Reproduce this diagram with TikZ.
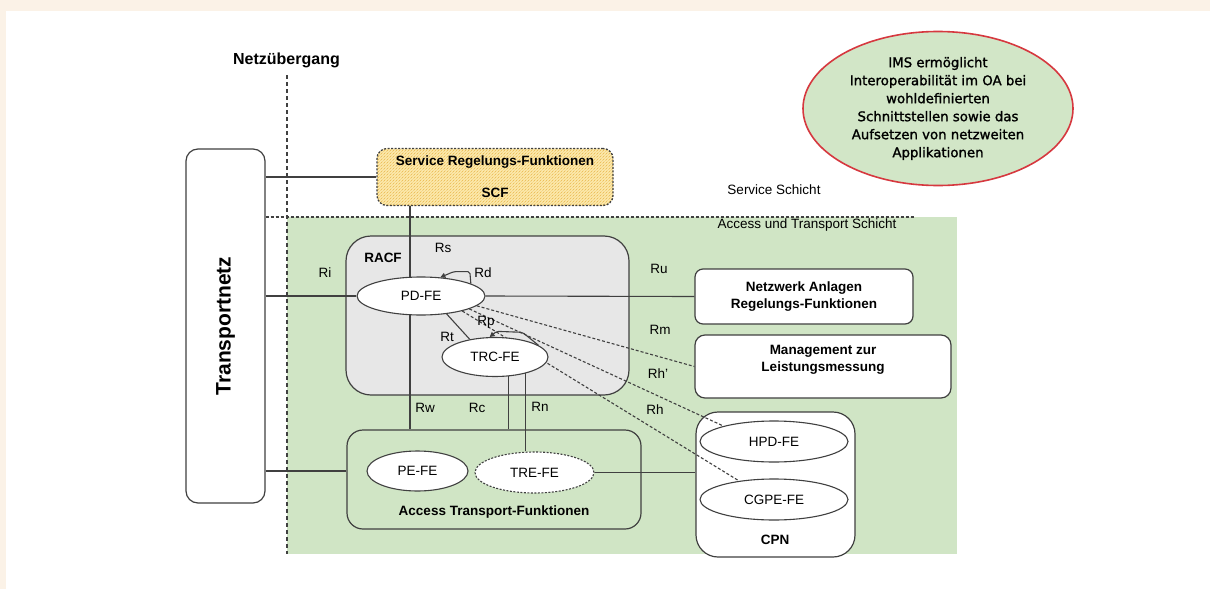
\documentclass[tikz,border=0pt]{standalone}
\usepackage{fontspec}
\setmainfont{Liberation Sans}
\newfontfamily\notefont[FakeBold=1.4]{DejaVu Sans}
\usetikzlibrary{patterns,arrows.meta,shapes.geometric}
\pgfdeclarelayer{back}
\pgfdeclarelayer{wires}
\pgfsetlayers{back,wires,main}

\definecolor{cream}{HTML}{FBF2E7}
\definecolor{layergreen}{HTML}{D0E5C5}
\definecolor{racfgray}{HTML}{E7E7E7}
\definecolor{edge}{HTML}{404040}
\definecolor{hatchbase}{HTML}{FCE9AC}
\definecolor{hatchline}{HTML}{E9B84C}
\definecolor{notered}{HTML}{D6383F}
\definecolor{notegreen}{HTML}{D2E6C7}

\begin{document}
\begin{tikzpicture}[x=1pt,y=-1pt,
  font=\fontsize{13.5}{16}\selectfont,
  box/.style={draw=edge,line width=1.2pt,rectangle,inner sep=0pt,align=center,
    font=\fontsize{13.5}{17}\selectfont\bfseries},
  fe/.style={draw=edge,line width=1.1pt,ellipse,fill=white,inner sep=0pt},
  link/.style={draw=edge,line width=1.1pt},
  dlink/.style={link,dash pattern=on 3pt off 2pt},
  lbl/.style={inner sep=0pt},
  bold/.style={inner sep=0pt,font=\fontsize{13.5}{16}\selectfont\bfseries},
  selfloop/.style={link,rounded corners=2pt,-{Triangle[length=5pt,width=5pt]}},
]
\useasboundingbox (0,0) rectangle (1210,589);

% page background with its cream edge
\begin{pgfonlayer}{back}
\fill[white] (0,0) rectangle (1210,589);
\fill[cream] (0,0) rectangle (1210,10.5);
\fill[cream] (0,0) rectangle (6,589);
% access and transport layer
\fill[layergreen] (287,217) rectangle (957,554);

% boxes
\node[box,minimum width=79pt,minimum height=354pt,rounded corners=12pt,fill=white,
  font=\fontsize{21}{24}\selectfont\bfseries] (T) at (225.5,326) {\rotatebox{90}{Transportnetz}};
\node[box,minimum width=236pt,minimum height=57pt,rounded corners=10pt,
  dash pattern=on 2pt off 1.5pt,line width=1.3pt,
  preaction={fill=hatchbase},pattern={north east lines},pattern color=hatchline]
  (SCF) at (495,177) {Service Regelungs-Funktionen\\[15pt]SCF};
\node[box,minimum width=283pt,minimum height=159pt,rounded corners=25pt,fill=racfgray]
  (RACF) at (487.5,315.5) {};
\node[box,minimum width=294pt,minimum height=99pt,rounded corners=16pt]
  (ATF) at (494,479.5) {};
\node[box,minimum width=218pt,minimum height=55pt,rounded corners=8pt,fill=white]
  (NACF) at (804,296.5) {Netzwerk Anlagen\\Regelungs-Funktionen};
\node[box,minimum width=256pt,minimum height=63pt,rounded corners=10pt,fill=white]
  (PM) at (823,366.5) {Management zur\\Leistungsmessung\\~};
\node[box,minimum width=159pt,minimum height=145pt,rounded corners=22pt,fill=white]
  (CPN) at (775.5,484.5) {};
\end{pgfonlayer}

% functional entities
\node[fe,minimum width=128pt,minimum height=38pt] (PD) at (421,296) {PD-FE};
\node[fe,minimum width=106pt,minimum height=39pt] (TRC) at (495,357) {TRC-FE};
\node[fe,minimum width=101pt,minimum height=40pt] (PE) at (417.5,471) {PE-FE};
\node[fe,minimum width=119pt,minimum height=41pt,dash pattern=on 2pt off 1.5pt] (TRE) at (534.5,472.5) {TRE-FE};
\node[fe,minimum width=148pt,minimum height=41pt] (HPD) at (774,441.5) {HPD-FE};
\node[fe,minimum width=148pt,minimum height=41pt] (CGPE) at (774,499.5) {CGPE-FE};

% annotation bubble
\node[ellipse,draw=notered,line width=1.6pt,fill=notegreen,minimum width=270pt,minimum height=154pt,
  inner sep=0pt,align=center,font=\notefont\fontsize{13.3}{18}\selectfont]
  (IMS) at (938,108.5) {IMS ermöglicht\\Interoperabilität im OA bei\\wohldefinierten\\Schnittstellen sowie das\\Aufsetzen von netzweiten\\Applikationen};

% texts
\node[bold,font=\fontsize{16}{18}\selectfont\bfseries] (gw) at (286.5,60) {Netzübergang};
\node[bold] (racfname) at (383,258) {RACF};
\node[bold] (atfname) at (494,512) {Access Transport-Funktionen};
\node[bold] (cpnname) at (775,540) {CPN};
\node[lbl] (svc) at (774,190) {Service Schicht};
\node[lbl] (acc) at (807,225) {Access und Transport Schicht};

\node[lbl] (Ri) at (325,273) {Ri};
\node[lbl] (Rs) at (443,248) {Rs};
\node[lbl] (Rd) at (483,273) {Rd};
\node[lbl] (Rp) at (486,322) {Rp};
\node[lbl] (Rt) at (447,337) {Rt};
\node[lbl] (Rw) at (425,408) {Rw};
\node[lbl] (Rc) at (477,408) {Rc};
\node[lbl] (Rn) at (540,407) {Rn};
\node[lbl] (Ru) at (659,269) {Ru};
\node[lbl] (Rm) at (660,330) {Rm};
\node[lbl] (Rhp) at (658,374) {Rh'};
\node[lbl] (Rh) at (655,410) {Rh};

\coordinate (gwtop) at (287,75);
\coordinate (gwbot) at (287,554);
\coordinate (layerend) at (915,217);
\coordinate (sx) at (410,0);

\begin{pgfonlayer}{wires}
% layer borders
\draw[draw=edge,line width=1.2pt,dash pattern=on 4pt off 3pt] (gwtop) -- (gwbot);
\draw[draw=edge,line width=1.2pt,dash pattern=on 3pt off 2pt] (T.east |- layerend) -- (layerend);
% reference points
\draw[link] (T.east |- SCF.west) -- (SCF.west);
\draw[link] (SCF.south -| sx) -- (ATF.north -| sx);
\draw[link] (T.east |- PD.west) -- (PD.west);
\draw[link] (PD.east) -- (NACF.west);
\draw[link] (PD.-35) -- (TRC.145);
\draw[link] (TRC.-55) -- (TRC.-55 |- ATF.north);
\draw[link] (TRC.-28) -- (TRC.-28 |- TRE.north);
\draw[link] (T.east |- PE.west) -- (ATF.west |- PE.west);
\draw[link] (TRE.east) -- (TRE.east -| CPN.west);
\draw[dlink] (PD.-10) -- (PM.west);
\draw[dlink] (PD.-15) -- (HPD.163);
\draw[dlink] (PD.-20) -- (CGPE.152);
\end{pgfonlayer}

% internal reference points
\draw[selfloop] (PD.14) -- ++(-1,-12) -- ++(-16,0) -- (PD.44);
\draw[selfloop] (TRC.15) -- ++(-16,-13) -- ++(-26,-1) -- (TRC.105);
\end{tikzpicture}
\end{document}
